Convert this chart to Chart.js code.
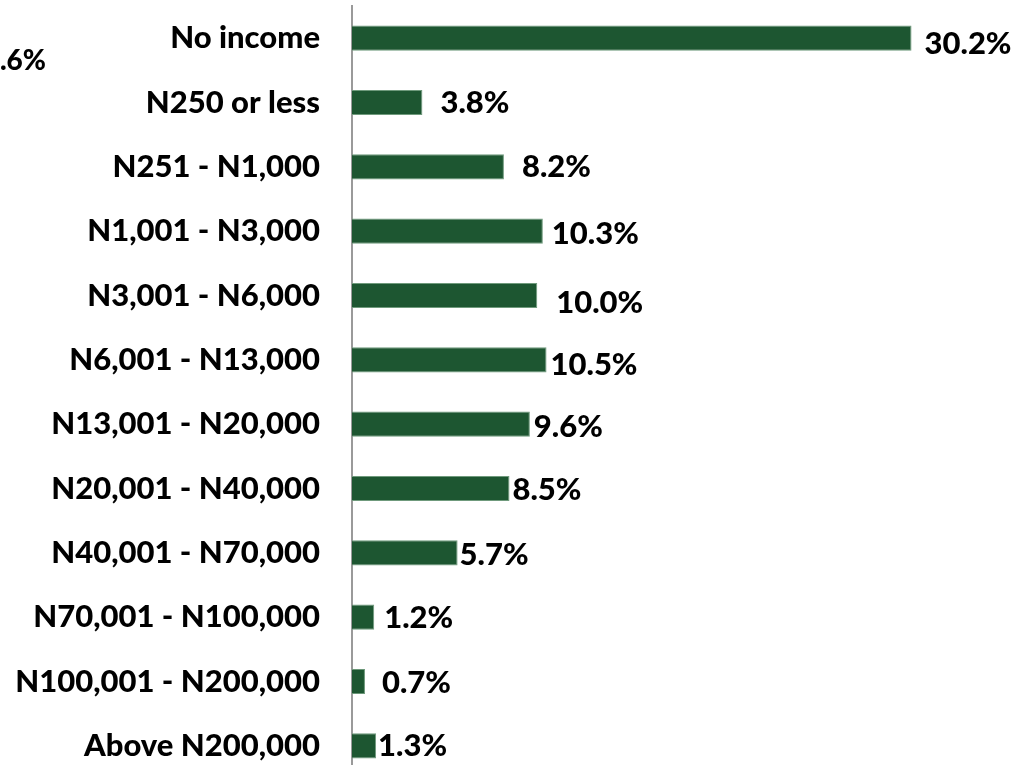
<!DOCTYPE html>
<html>
<head>
<meta charset="utf-8">
<script src="https://cdn.jsdelivr.net/npm/chart.js@4"></script>
<style>
    html, body { margin: 0; padding: 0; background: #fff; overflow: hidden; }
    #wrap { position: relative; width: 1029px; height: 780px; }
</style>
</head>
<body>
<div id="wrap"><canvas id="incomeChart"></canvas></div>
<script>
// Data
const categories = [
    'No income', 'N250 or less', 'N251 - N1,000', 'N1,001 - N3,000',
    'N3,001 - N6,000', 'N6,001 - N13,000', 'N13,001 - N20,000', 'N20,001 - N40,000',
    'N40,001 - N70,000', 'N70,001 - N100,000', 'N100,001 - N200,000', 'Above N200,000'
];
const shares = [30.2, 3.8, 8.2, 10.3, 10.0, 10.5, 9.6, 8.5, 5.7, 1.2, 0.7, 1.3];

// label nudges (px) - the source chart places them a bit unevenly
const labelDx = [13, 18, 18, 9, 19, 4, 4, 3, 2, 10, 17, 2];
const labelDy = [6, 0, 0, 3, 7, 5, 3, 1, 2, 1, 1, 0];

const strayLabel = '1.6%';

const FONT = "Lato, 'Open Sans', sans-serif";
const barColor = '#1d5631';

// draws the value labels + the clipped leftover label in the top-left corner
const valueLabels = {
    id: 'valueLabels',
    afterDatasetsDraw(chart) {
        const ctx = chart.ctx;
        const meta = chart.getDatasetMeta(0);
        ctx.save();
        ctx.font = '900 31px ' + FONT;
        ctx.fillStyle = '#000';
        ctx.textBaseline = 'middle';
        ctx.textAlign = 'left';
        meta.data.forEach((bar, i) => {
            ctx.fillText(shares[i].toFixed(1) + '%', bar.x + labelDx[i], bar.y + labelDy[i]);
        });
        ctx.textAlign = 'right';
        ctx.font = '900 28px ' + FONT;
        ctx.fillText(strayLabel, 46, 61);
        ctx.restore();
    }
};

const ctx = document.getElementById('incomeChart').getContext('2d');
new Chart(ctx, {
    type: 'bar',
    data: {
        labels: categories,
        datasets: [{
            data: shares,
            backgroundColor: barColor,
            borderColor: '#6f9a7c',
            borderWidth: { top: 1, bottom: 1, right: 1, left: 0 },
            borderSkipped: 'left',
            barPercentage: 0.78,
            categoryPercentage: 0.5
        }]
    },
    options: {
        indexAxis: 'y',
        responsive: true,
        maintainAspectRatio: false,
        animation: false,
        layout: { padding: { top: 6, bottom: 2, right: 10, left: 0 } },
        scales: {
            x: {
                display: false,
                min: 0,
                max: 36
            },
            y: {
                afterFit: scale => {
                    scale.width = 352;
                    scale.paddingTop = 0;
                    scale.paddingBottom = 0;
                },
                grid: { display: false, drawTicks: false },
                border: { display: true, color: '#9a9a9a', width: 2 },
                ticks: {
                    color: '#000',
                    padding: 32,
                    font: { family: FONT, size: 31, weight: '900' }
                }
            }
        },
        plugins: {
            legend: { display: false },
            tooltip: { enabled: false }
        }
    },
    plugins: [valueLabels]
});
</script>
</body>
</html>
